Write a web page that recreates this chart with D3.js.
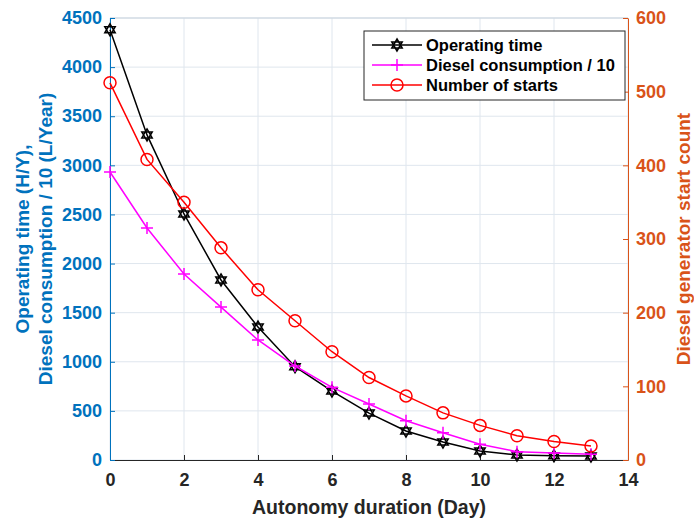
<!DOCTYPE html>
<html>
<head>
<meta charset="utf-8">
<script src="https://cdn.jsdelivr.net/npm/d3@7"></script>
<style>
  body { margin: 0; background: #fff; }
  svg text { font-family: "Liberation Sans", Arial, sans-serif; font-weight: bold; }
</style>
</head>
<body>
<svg width="694" height="519"></svg>
<script>
var days = [0, 1, 2, 3, 4, 5, 6, 7, 8, 9, 10, 11, 12, 13];
var operatingTime = [4380, 3310, 2505, 1833, 1354, 950, 702, 478, 295, 183, 92, 50, 43, 40];
var dieselPer10 = [2932, 2362, 1894, 1557, 1222, 957, 740, 570, 400, 278, 160, 85, 71, 58];
var numStarts = [512, 408, 350, 288, 231, 189, 147, 112, 87, 64, 47, 33, 25, 19];

var xTicks = [0, 2, 4, 6, 8, 10, 12, 14];
var leftTicks = [0, 500, 1000, 1500, 2000, 2500, 3000, 3500, 4000, 4500];
var rightTicks = [0, 100, 200, 300, 400, 500, 600];

var svg = d3.select("svg");
var padding = { t: 18, r: 66, b: 59, l: 110 };
var W = +svg.attr("width"), H = +svg.attr("height");

var xscale = d3.scaleLinear().domain([0, 14]).range([padding.l, W - padding.r]);
var yscale = d3.scaleLinear().domain([0, 4500]).range([H - padding.b, padding.t]);
var yscale2 = d3.scaleLinear().domain([0, 600]).range([H - padding.b, padding.t]);

var blue = "#0072BD", orange = "#D95319", dark = "#262626", gridc = "#dfe6ee";

// grid
var grid = svg.append("g");
grid.selectAll(".gx").data(xTicks).enter().append("line")
  .attr("x1", d => xscale(d)).attr("x2", d => xscale(d))
  .attr("y1", padding.t).attr("y2", H - padding.b)
  .attr("stroke", gridc).attr("stroke-width", 1);
grid.selectAll(".gy").data(leftTicks).enter().append("line")
  .attr("x1", padding.l).attr("x2", W - padding.r)
  .attr("y1", d => yscale(d)).attr("y2", d => yscale(d))
  .attr("stroke", gridc).attr("stroke-width", 1);

// axes
var xAxis = svg.append("g")
  .attr("transform", "translate(0," + (H - padding.b) + ")")
  .call(d3.axisBottom(xscale).tickValues(xTicks).tickFormat(d3.format("d"))
    .tickSizeInner(-5).tickSizeOuter(0).tickPadding(13));
xAxis.select(".domain").attr("stroke", dark);
xAxis.selectAll("line").attr("stroke", dark);
xAxis.selectAll("text").attr("fill", dark).style("font-size", "18px");

svg.append("line").attr("x1", padding.l).attr("x2", W - padding.r)
  .attr("y1", padding.t).attr("y2", padding.t).attr("stroke", "#c9d3dd");

var yAxis = svg.append("g")
  .attr("transform", "translate(" + padding.l + ",0)")
  .call(d3.axisLeft(yscale).tickValues(leftTicks).tickFormat(d3.format("d"))
    .tickSizeInner(-5).tickSizeOuter(0).tickPadding(8));
yAxis.select(".domain").attr("stroke", blue);
yAxis.selectAll("line").attr("stroke", blue);
yAxis.selectAll("text").attr("fill", blue).style("font-size", "18px");

var yAxis2 = svg.append("g")
  .attr("transform", "translate(" + (W - padding.r) + ",0)")
  .call(d3.axisRight(yscale2).tickValues(rightTicks).tickFormat(d3.format("d"))
    .tickSizeInner(-5).tickSizeOuter(0).tickPadding(8));
yAxis2.select(".domain").attr("stroke", orange);
yAxis2.selectAll("line").attr("stroke", orange);
yAxis2.selectAll("text").attr("fill", orange).style("font-size", "18px");

// axis labels
svg.append("text").attr("x", xscale(7)).attr("y", 514)
  .attr("text-anchor", "middle").attr("fill", dark).style("font-size", "19.5px")
  .text("Autonomy duration (Day)");

var cy = (padding.t + H - padding.b) / 2;
var leftLab = svg.append("text").attr("transform", "translate(29," + cy + ") rotate(-90)")
  .attr("text-anchor", "middle").attr("fill", blue).style("font-size", "19px");
leftLab.append("tspan").attr("x", 0).attr("dy", 0).text("Operating time (H/Y),");
leftLab.append("tspan").attr("x", 0).attr("dy", 23).text("Diesel consumption / 10 (L/Year)");

svg.append("text").attr("transform", "translate(690," + cy + ") rotate(-90)")
  .attr("text-anchor", "middle").attr("fill", orange).style("font-size", "19px")
  .text("Diesel generator start count");

// series
var series = [
  { name: "Operating time", values: operatingTime, color: "#000000", marker: "hex", y: yscale },
  { name: "Diesel consumption / 10", values: dieselPer10, color: "#FF00FF", marker: "plus", y: yscale },
  { name: "Number of starts", values: numStarts, color: "#FF0000", marker: "circle", y: yscale2 }
];

function hexPath(s) {
  var p = "";
  [0, 1].forEach(function (k) {
    var pts = [0, 1, 2].map(function (i) {
      var a = -Math.PI / 2 + k * Math.PI + i * 2 * Math.PI / 3;
      return [s * Math.cos(a), s * Math.sin(a)];
    });
    p += "M" + pts.map(q => q[0].toFixed(2) + "," + q[1].toFixed(2)).join("L") + "Z";
  });
  return p;
}

function drawMarker(g, type, color) {
  if (type === "hex") {
    g.append("path").attr("d", hexPath(6)).attr("fill", "none").attr("stroke", color).attr("stroke-width", 1.5);
  } else if (type === "plus") {
    g.append("path").attr("d", "M-6,0H6M0,-6V6").attr("stroke", color).attr("stroke-width", 1.5);
  } else {
    g.append("circle").attr("r", 6).attr("fill", "none").attr("stroke", color).attr("stroke-width", 1.5);
  }
}

var line = d3.line();
series.forEach(function (s) {
  var pts = days.map((d, i) => [xscale(d), s.y(s.values[i])]);
  svg.append("path").attr("d", line(pts)).attr("fill", "none")
    .attr("stroke", s.color).attr("stroke-width", 1.5);
  pts.forEach(function (p) {
    drawMarker(svg.append("g").attr("transform", "translate(" + p[0] + "," + p[1] + ")"), s.marker, s.color);
  });
});

// legend
var lg = svg.append("g").attr("transform", "translate(364,31)");
lg.append("rect").attr("width", 261).attr("height", 69).attr("fill", "#fff")
  .attr("stroke", dark).attr("stroke-width", 1);
series.forEach(function (s, i) {
  var yy = 14 + i * 20;
  lg.append("line").attr("x1", 8).attr("x2", 58).attr("y1", yy).attr("y2", yy)
    .attr("stroke", s.color).attr("stroke-width", 1.5);
  drawMarker(lg.append("g").attr("transform", "translate(33," + yy + ")"), s.marker, s.color);
  lg.append("text").attr("x", 62).attr("y", yy + 6).attr("fill", "#000")
    .style("font-size", "16.5px").text(s.name);
});
</script>
</body>
</html>
